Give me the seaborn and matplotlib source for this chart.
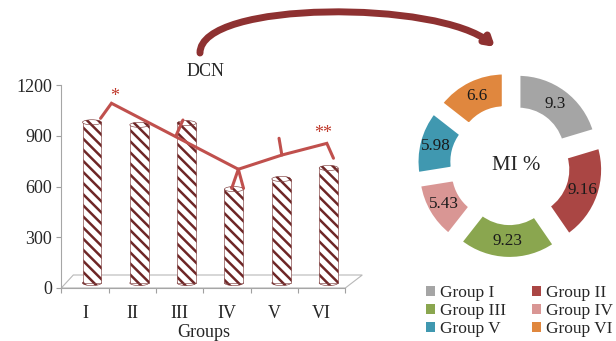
import numpy as np
import pandas as pd
import seaborn as sns
import matplotlib
matplotlib.use("Agg")
import matplotlib.pyplot as plt
from matplotlib.patches import Ellipse, Polygon, Patch, FancyArrowPatch
from matplotlib.path import Path
from matplotlib.transforms import ScaledTranslation

# ---- data -------------------------------------------------------------
groups = ["I", "II", "III", "IV", "V", "VI"]
dcn_values = [950, 935, 945, 555, 615, 680]

mi_labels = ["Group I", "Group II", "Group III", "Group IV", "Group V", "Group VI"]
mi_values = [9.3, 9.16, 9.23, 5.43, 5.98, 6.6]
mi_colors = ["#a5a5a5", "#aa4644", "#8aa64f", "#d99694", "#4098b0", "#e0873e"]

y_ticks = [0, 300, 600, 900, 1200]

# significance bracket drawn over the bars (x in group index, y in DCN units)
bracket_x = [0.33, 0.56, 3.24, 4.16, 5.11, 5.25]
bracket_y = [1003, 1092, 702, 786, 855, 767]
spike_segments = [
    ([1.92, 2.07], [898, 993]),
    ([3.24, 3.10], [702, 589]),
    ([3.24, 3.35], [702, 589]),
    ([4.16, 4.10], [786, 885]),
]
star_marks = [("*", 0.63, 1131), ("**", 5.03, 916)]

# ---- style ------------------------------------------------------------
sns.set_style("white")
plt.rcParams["font.family"] = ["Liberation Serif", "DejaVu Serif"]
plt.rcParams["hatch.linewidth"] = 1.8
plt.rcParams["hatch.color"] = "#6e2626"

W, H = 616, 341
fig = plt.figure(figsize=(W / 100, H / 100), dpi=100)


def fx(px):
    return px / W


def fy(py):
    return 1 - py / H


stripes = "\\\\\\"

# ---- bar chart --------------------------------------------------------
ax = fig.add_axes([fx(61.3), fy(288), (345.3 - 61.3) / W, 203 / H])
df = pd.DataFrame({"group": groups, "dcn": dcn_values})
sns.barplot(data=df, x="group", y="dcn", ax=ax, color="white", width=0.4,
            saturation=1, edgecolor="#6e2626", linewidth=0.4, hatch=stripes,
            zorder=3)

# bars stand slightly back on the floor
depth = ScaledTranslation(0.07, 0.05, fig.dpi_scale_trans)
bar_tf = ax.transData + depth
for p in ax.patches:
    p.set_transform(bar_tf)
cap_h = 30
for i, v in enumerate(dcn_values):
    ax.add_patch(Ellipse((i, 0), 0.4, cap_h, transform=bar_tf, facecolor="white",
                         edgecolor="#6e2626", hatch=stripes, lw=0.4, zorder=2))
    ax.add_patch(Ellipse((i, v), 0.4, cap_h, transform=bar_tf, facecolor="white",
                         edgecolor="#6e2626", hatch=stripes, lw=0.4, zorder=4))

ax.set_xlim(-0.5, 5.5)
ax.set_ylim(0, 1200)
ax.set_yticks(y_ticks)
ax.set_xticks(range(len(groups)))
ax.set_xticklabels(groups)
ax.set_xticks(np.arange(-0.5, 6, 1), minor=True)
ax.tick_params(axis="y", which="major", direction="out", length=3.6, width=0.8,
               color="#a0a0a0", labelsize=13, pad=3, left=True)
ax.tick_params(axis="x", which="major", length=0, labelsize=13, pad=12)
ax.tick_params(axis="x", which="minor", direction="out", length=3.6, width=0.8,
               color="#a0a0a0", bottom=True)
ax.set_ylabel("")
ax.set_xlabel("Groups", fontsize=13, labelpad=1.5)
for s in ["top", "right"]:
    ax.spines[s].set_visible(False)
for s in ["left", "bottom"]:
    ax.spines[s].set_color("#a6a6a6")
    ax.spines[s].set_linewidth(0.8)
ax.patch.set_alpha(0)

# floor of the plot area
floor = Polygon([(0, 0), (1, 0), (1 + 17 / 284, 13 / 203), (12 / 284, 13 / 203)],
                closed=True, transform=ax.transAxes, facecolor="white",
                edgecolor="#b8b8b8", lw=0.8, clip_on=False, zorder=1)
ax.add_patch(floor)

red = "#c0504d"
ax.plot(bracket_x, bracket_y, color=red, lw=2.2, solid_joinstyle="miter",
        clip_on=False, zorder=6)
for xs, ys in spike_segments:
    ax.plot(xs, ys, color=red, lw=2.2, clip_on=False, zorder=6)
for s, x, y in star_marks:
    ax.text(x, y, s, color="#c0392b", fontsize=13, ha="center", va="center",
            zorder=7)

fig.text(fx(205), fy(72), "DCN", fontsize=13, ha="center", va="center")

# ---- donut chart ------------------------------------------------------
dax = fig.add_axes([fx(410), fy(265), 200 / W, 200 / H])
wedges, texts = dax.pie(mi_values, colors=mi_colors, startangle=90,
                        counterclock=False, explode=[0.175] * len(mi_values),
                        labels=[f"{v:g}" for v in mi_values], labeldistance=0.78,
                        wedgeprops=dict(width=0.45, edgecolor="white", linewidth=3),
                        textprops=dict(fontsize=12.3, color="#1a1a1a"))
for t in texts:
    t.set_ha("center")
    t.set_va("center")
dax.text(0.08, -0.01, "MI %", fontsize=15, ha="center", va="center")
dax.set_xlim(-1.25, 1.25)
dax.set_ylim(-1.25, 1.25)
dax.set_aspect("equal")
dax.axis("off")

handles = [Patch(facecolor=c, edgecolor="none") for c in mi_colors]
order = [0, 2, 4, 1, 3, 5]
fig.legend([handles[i] for i in order], [mi_labels[i] for i in order], ncol=2,
           loc="upper left", bbox_to_anchor=(fx(426), fy(285)), frameon=False,
           handlelength=0.5, handleheight=0.5, handletextpad=0.3,
           columnspacing=1.5, labelspacing=0.12, borderpad=0, borderaxespad=0,
           fontsize=12.5)

# ---- connecting arrow -------------------------------------------------
verts = [(fx(200), fy(53)), (fx(200), fy(0)), (fx(440), fy(0)), (fx(495), fy(47))]
codes = [Path.MOVETO, Path.CURVE4, Path.CURVE4, Path.CURVE4]
arrow = FancyArrowPatch(path=Path(verts, codes), transform=fig.transFigure,
                        arrowstyle="-|>,head_length=0.25,head_width=0.15",
                        mutation_scale=20, lw=5, color="#8e3131",
                        capstyle="round")
fig.add_artist(arrow)

fig.savefig("out.png", dpi=100)
